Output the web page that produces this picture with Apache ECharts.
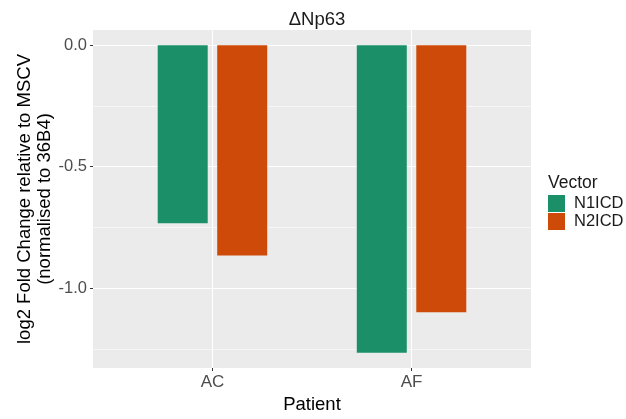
<!DOCTYPE html>
<html>
<head>
<meta charset="utf-8">
<script src="https://cdn.jsdelivr.net/npm/echarts@6/dist/echarts.min.js"></script>
<style>html,body{margin:0;padding:0;background:#fff}#c{width:626px;height:419px}</style>
</head>
<body>
<div id="c"></div>
<script>
const categories = ['AC', 'AF'];
const seriesNames = ['N1ICD', 'N2ICD'];
const n1icd = [-0.733, -1.266];
const n2icd = [-0.866, -1.100];
const yMajorTicks = [-1.0, -0.5, 0.0];
const yMinorTicks = [-1.25, -0.75, -0.25];
const colors = ['#1B9068', '#CE4A08'];

const FONT = 'Liberation Sans, Arial, sans-serif';
const catPos = categories.map((c, i) => i + 1);
const yMin = -1.266 - 0.05 * 1.266;
const yMax = 0.05 * 1.266;

const chart = echarts.init(document.getElementById('c'), null, {renderer: 'canvas'});
chart.setOption({
  animation: false,
  backgroundColor: '#ffffff',
  title: [
    {text: 'ΔNp63', left: 312, top: 5, textAlign: 'center',
     textStyle: {fontFamily: FONT, fontSize: 18.5, fontWeight: 'normal', color: '#1a1a1a'}},
    {text: 'Vector', left: 543, top: 169,
     textStyle: {fontFamily: FONT, fontSize: 17.5, fontWeight: 'normal', color: '#1a1a1a'}}
  ],
  legend: {
    orient: 'vertical', left: 543, top: 190, itemWidth: 17, itemHeight: 17, itemGap: 1,
    icon: 'rect', data: seriesNames,
    textStyle: {fontFamily: FONT, fontSize: 16.5, color: '#1a1a1a', padding: [0, 0, 0, 4]}
  },
  grid: {left: 93, right: 95, top: 30, bottom: 49, show: true, backgroundColor: '#EBEBEB', borderWidth: 0},
  xAxis: {
    type: 'value', min: 0.4, max: 2.6,
    name: 'Patient', nameLocation: 'middle', nameGap: 27, nameMoveOverlap: false,
    nameTextStyle: {fontFamily: FONT, fontSize: 18.5, color: '#000'},
    axisLine: {show: false, onZero: false},
    axisTick: {show: true, length: 3, customValues: catPos, lineStyle: {color: '#333', width: 1}},
    axisLabel: {customValues: catPos, margin: 6, fontFamily: FONT, fontSize: 17, color: '#4D4D4D',
      formatter: v => categories[Math.round(v) - 1] || ''},
    splitLine: {show: true, lineStyle: {color: '#ffffff', width: 1.1}}
  },
  yAxis: [{
    type: 'value', min: yMin, max: yMax,
    name: 'log2 Fold Change relative to MSCV\n(normalised to 36B4)',
    nameLocation: 'middle', nameGap: 38, nameRotate: 90, nameMoveOverlap: false,
    nameTextStyle: {fontFamily: FONT, fontSize: 18.5, color: '#000', lineHeight: 20, align: 'center'},
    axisLine: {show: false, onZero: false},
    axisTick: {show: true, length: 3, customValues: yMajorTicks, lineStyle: {color: '#333', width: 1}},
    axisLabel: {customValues: yMajorTicks, margin: 6, fontFamily: FONT, fontSize: 16.5, color: '#4D4D4D',
      formatter: v => v.toFixed(1)},
    splitLine: {show: true, lineStyle: {color: '#ffffff', width: 1.1}}
  }, {
    type: 'value', min: yMin, max: yMax, position: 'left',
    axisLine: {show: false, onZero: false},
    axisTick: {show: false, customValues: yMinorTicks},
    axisLabel: {show: false, customValues: yMinorTicks},
    splitLine: {show: true, lineStyle: {color: '#ffffff', width: 0.55}}
  }],
  series: [n1icd, n2icd].map((vals, si) => ({
    name: seriesNames[si], type: 'bar', xAxisIndex: 0, yAxisIndex: 0,
    barWidth: 50, barGap: '19%',
    itemStyle: {color: colors[si]},
    data: vals.map((v, i) => [catPos[i], v])
  }))
});
</script>
</body>
</html>
